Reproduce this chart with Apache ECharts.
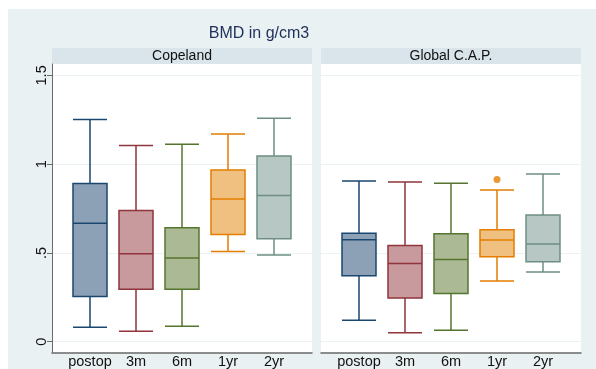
<!DOCTYPE html>
<html>
<head>
<meta charset="utf-8">
<script src="https://cdn.jsdelivr.net/npm/echarts@6/dist/echarts.min.js"></script>
<style>
  html, body { margin: 0; padding: 0; background: #fff; }
  #main { width: 596px; height: 369px; }
</style>
</head>
<body>
<div id="main"></div>
<script>
// data: [min, Q1, median, Q3, max]
var categories = ['postop', '3m', '6m', '1yr', '2yr'];
var copelandBoxes = [
  [0.073, 0.248, 0.662, 0.887, 1.250],
  [0.051, 0.288, 0.490, 0.735, 1.103],
  [0.079, 0.288, 0.466, 0.637, 1.110],
  [0.502, 0.598, 0.799, 0.964, 1.167],
  [0.483, 0.575, 0.820, 1.043, 1.257]
];
var capBoxes = [
  [0.113, 0.365, 0.569, 0.605, 0.902],
  [0.042, 0.239, 0.434, 0.536, 0.896],
  [0.056, 0.265, 0.457, 0.603, 0.889],
  [0.335, 0.472, 0.568, 0.626, 0.850],
  [0.386, 0.444, 0.545, 0.709, 0.941]
];
var capOutliers = [['1yr', 0.91]];
var yTicks = [0, 0.5, 1, 1.5];
var panelNames = ['Copeland', 'Global C.A.P.'];

var fills = ['#8DA1B6', '#C8999D', '#ABBA95', '#F0C080', '#B7C7C3'];
var borders = ['#1A476F', '#90353B', '#55752F', '#E37E00', '#6E8E84'];

var yMin = -0.061, yMax = 1.564;
var plotTop = 64, plotBottom = 369 - 352.5;
var panels = [{left: 52, width: 260}, {left: 321, width: 260}];

function tickText(v) {
  if (v === 0) return '0';
  var s = String(v);
  return s.charAt(0) === '0' ? s.slice(1) : s;
}

function boxData(rows) {
  return rows.map(function (r, i) {
    return {value: r, itemStyle: {color: fills[i], borderColor: borders[i]}};
  });
}

var grids = [], xAxes = [], yAxes = [], series = [], graphics = [];

panels.forEach(function (p, k) {
  // full panel frame (axis line, grid lines, y labels)
  grids.push({left: p.left, width: p.width, top: plotTop, bottom: plotBottom});
  // inner band for the boxes
  grids.push({left: p.left + 15, width: p.width - 30, top: plotTop, bottom: plotBottom});

  xAxes.push({
    gridIndex: 2 * k, type: 'value', min: 0, max: 1,
    axisLine: {show: true, onZero: false, lineStyle: {color: '#6A6A6A', width: 1.5}},
    axisTick: {show: false}, axisLabel: {show: false}, splitLine: {show: false}
  });
  xAxes.push({
    gridIndex: 2 * k + 1, type: 'category', data: categories,
    axisLine: {show: false}, axisTick: {show: false},
    axisLabel: {color: '#111', fontSize: 14.5, fontFamily: 'Liberation Sans', margin: 3, interval: 0}
  });

  yAxes.push({
    gridIndex: 2 * k, type: 'value', min: yMin, max: yMax,
    axisLine: {show: k === 0, lineStyle: {color: '#6A6A6A'}},
    axisTick: {show: k === 0, customValues: yTicks, length: 5, lineStyle: {color: '#6A6A6A'}},
    axisLabel: {
      show: k === 0, customValues: yTicks, rotate: 90, color: '#111', fontSize: 14.5,
      fontFamily: 'Liberation Sans', margin: 3, formatter: tickText
    },
    splitLine: {show: true, lineStyle: {color: '#EAF2F3', width: 1}}
  });
  yAxes.push({
    gridIndex: 2 * k + 1, type: 'value', min: yMin, max: yMax, show: false
  });

  series.push({
    type: 'boxplot',
    xAxisIndex: 2 * k + 1, yAxisIndex: 2 * k + 1,
    boxWidth: [34, 34],
    itemStyle: {borderWidth: 1.5},
    emphasis: {disabled: true},
    data: boxData(k === 0 ? copelandBoxes : capBoxes)
  });

  // white plot background and strip header
  graphics.push({
    type: 'rect', z: -10,
    shape: {x: p.left, y: plotTop, width: p.width, height: 352.5 - plotTop},
    style: {fill: '#FFFFFF'}
  });
  graphics.push({
    type: 'rect',
    shape: {x: p.left, y: 48, width: p.width, height: 16},
    style: {fill: '#D9E5EA'}
  });
  graphics.push({
    type: 'text', x: p.left + p.width / 2, y: 56,
    style: {
      text: panelNames[k], fill: '#111', fontSize: 14, fontFamily: 'Liberation Sans',
      align: 'center', verticalAlign: 'middle'
    }
  });
});

series.push({
  type: 'scatter', xAxisIndex: 3, yAxisIndex: 3,
  symbolSize: 7,
  itemStyle: {color: '#E37E00'},
  data: capOutliers
});

// white margin at top and left of the picture
graphics.push({type: 'rect', shape: {x: 0, y: 0, width: 596, height: 9}, style: {fill: '#FFFFFF'}});
graphics.push({type: 'rect', shape: {x: 0, y: 0, width: 8, height: 369}, style: {fill: '#FFFFFF'}});
graphics.push({
  type: 'text', x: 259, y: 34,
  style: {
    text: 'BMD in g/cm3', fill: '#1E2F5A', fontSize: 16, fontFamily: 'Liberation Sans',
    align: 'center', verticalAlign: 'middle'
  }
});

var chart = echarts.init(document.getElementById('main'));
chart.setOption({
  backgroundColor: '#EAF1F3',
  animation: false,
  grid: grids,
  xAxis: xAxes,
  yAxis: yAxes,
  graphic: {elements: graphics},
  series: series
});
</script>
</body>
</html>
